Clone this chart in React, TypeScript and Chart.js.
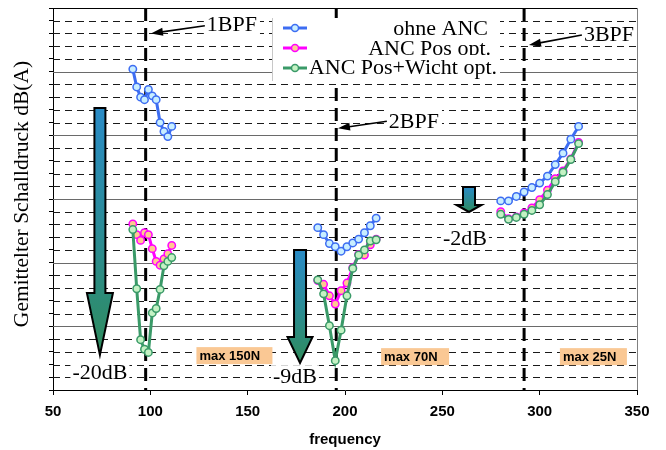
import React, { useEffect, useRef } from 'react';
import { Chart, registerables } from 'chart.js';

Chart.register(...registerables);

// ---- data ----
const freqLow = [91, 93, 95, 97, 99, 101, 103, 105, 107, 109, 111];
const freqMid = [186, 189, 192, 195, 198, 201, 204, 207, 210, 213, 216];
const freqHigh = [280, 284, 288, 292, 296, 300, 304, 308, 312, 316, 320];

const ohneAncLow = [25.2, 23.8, 23.0, 22.8, 23.6, 23.1, 22.8, 21.0, 20.3, 19.9, 20.7];
const ohneAncMid = [12.75, 12.2, 11.5, 11.25, 10.9, 11.25, 11.55, 11.85, 12.35, 12.9, 13.5];
const ohneAncHigh = [14.85, 14.85, 15.2, 15.55, 15.9, 16.25, 16.8, 17.7, 18.6, 19.7, 20.7];

const posOptLow = [13.05, 12.2, 11.75, 12.35, 12.2, 11.1, 10.1, 9.8, 10.3, 10.7, 11.35];
const posOptMid = [8.6, 8.3, 7.4, 6.75, 7.8, 8.4, 9.6, 10.65, 10.6, 11.4, 11.85];
const posOptHigh = [14.0, 13.45, 13.6, 13.9, 14.3, 14.95, 15.7, 16.6, 17.2, 18.15, 19.45];

const posWichtLow = [12.6, 7.95, 3.95, 3.2, 2.95, 6.05, 6.4, 7.9, 9.75, 10.1, 10.4];
const posWichtMid = [8.65, 7.55, 5.05, 2.3, 4.7, 7.4, 9.55, 10.6, 11.0, 11.7, 11.8];
const posWichtHigh = [13.8, 13.4, 13.55, 13.8, 14.1, 14.55, 15.35, 16.35, 17.1, 18.1, 19.35];

const seriesNames = ['ohne ANC', 'ANC Pos opt.', 'ANC Pos+Wicht opt.'];
const bpfFreqs = [97.6, 195.5, 292];
const bpfLabels = ['1BPF', '2BPF', '3BPF'];
const reductionLabels = ['-20dB', '-9dB', '-2dB'];
const forceLabels = ['max 150N', 'max 70N', 'max 25N'];
const yAxisTitle = 'Gemittelter Schalldruck dB(A)';
const xAxisTitle = 'frequency';

// ---- styles ----
const SANS = "'Liberation Sans', Arial, sans-serif";
const SERIF = "'Liberation Serif', 'Times New Roman', serif";
const lineColors = ['#3d6df2', '#ff00ff', '#3a9a68'];
const pointFills = ['#c8eeff', '#ffc890', '#c4f2c4'];

function joinGroups(fs: number[][], vs: number[][]) {
  const out: { x: number; y: number | null }[] = [];
  fs.forEach((f, g) => {
    if (g > 0) out.push({ x: (fs[g - 1][fs[g - 1].length - 1] + f[0]) / 2, y: null });
    f.forEach((x, i) => out.push({ x, y: vs[g][i] }));
  });
  return out;
}

const allFreqs = [freqLow, freqMid, freqHigh];
const seriesValues = [
  [ohneAncLow, ohneAncMid, ohneAncHigh],
  [posOptLow, posOptMid, posOptHigh],
  [posWichtLow, posWichtMid, posWichtHigh],
];

function whiteTextBox(ctx: CanvasRenderingContext2D, text: string, cx: number, cy: number, size: number, padX = 3, padY = 2) {
  ctx.font = `${size}px ${SERIF}`;
  const w = ctx.measureText(text).width;
  const h = size * 0.8;
  ctx.fillStyle = '#fff';
  ctx.fillRect(cx - w / 2 - padX, cy - h / 2 - padY, w + 2 * padX, h + 2 * padY);
  ctx.fillStyle = '#000';
  ctx.textAlign = 'center';
  ctx.textBaseline = 'middle';
  ctx.fillText(text, cx, cy + 1);
}

function pointer(ctx: CanvasRenderingContext2D, x1: number, y1: number, x2: number, y2: number) {
  const ang = Math.atan2(y2 - y1, x2 - x1);
  const hl = 12, hw = 4;
  ctx.strokeStyle = '#000';
  ctx.lineWidth = 1.6;
  ctx.setLineDash([]);
  ctx.beginPath();
  ctx.moveTo(x1, y1);
  ctx.lineTo(x2 - Math.cos(ang) * hl * 0.8, y2 - Math.sin(ang) * hl * 0.8);
  ctx.stroke();
  ctx.fillStyle = '#000';
  ctx.beginPath();
  ctx.moveTo(x2, y2);
  ctx.lineTo(x2 - Math.cos(ang) * hl - Math.sin(ang) * hw, y2 - Math.sin(ang) * hl + Math.cos(ang) * hw);
  ctx.lineTo(x2 - Math.cos(ang) * hl + Math.sin(ang) * hw, y2 - Math.sin(ang) * hl - Math.cos(ang) * hw);
  ctx.closePath();
  ctx.fill();
}

function bigArrow(ctx: CanvasRenderingContext2D, x: number, yTop: number, yNeck: number, yTip: number, sh: number, hh: number) {
  const g = ctx.createLinearGradient(0, yTop, 0, yTip);
  g.addColorStop(0, '#2a8bc6');
  g.addColorStop(0.5, '#2b8c96');
  g.addColorStop(1, '#2f8c5c');
  ctx.beginPath();
  ctx.moveTo(x - sh, yTop);
  ctx.lineTo(x + sh, yTop);
  ctx.lineTo(x + sh, yNeck);
  ctx.lineTo(x + hh, yNeck);
  ctx.lineTo(x, yTip);
  ctx.lineTo(x - hh, yNeck);
  ctx.lineTo(x - sh, yNeck);
  ctx.closePath();
  ctx.fillStyle = g;
  ctx.fill();
  ctx.setLineDash([]);
  ctx.lineWidth = 2;
  ctx.strokeStyle = '#000';
  ctx.lineJoin = 'miter';
  ctx.stroke();
}

const overlayPlugin = {
  id: 'overlay',
  beforeDatasetsDraw(chart: any) {
    const { ctx, chartArea: a, scales } = chart;
    const xs = scales.x, ys = scales.y;
    ctx.save();
    // grid lines
    for (let v = 1; v < 30; v++) {
      const py = Math.round(ys.getPixelForValue(v)) + 0.5;
      ctx.beginPath();
      ctx.lineWidth = 1;
      if (v % 5 === 0) {
        ctx.setLineDash([]);
        ctx.strokeStyle = '#6a6a6a';
      } else {
        ctx.setLineDash([7, 5]);
        ctx.strokeStyle = '#1a1a1a';
      }
      ctx.moveTo(a.left, py);
      ctx.lineTo(a.right, py);
      ctx.stroke();
    }
    ctx.setLineDash([]);
    // top + right border
    ctx.strokeStyle = '#000';
    ctx.beginPath();
    ctx.moveTo(a.left, Math.round(a.top) + 0.5);
    ctx.lineTo(a.right, Math.round(a.top) + 0.5);
    ctx.stroke();
    ctx.strokeStyle = '#808080';
    ctx.beginPath();
    ctx.moveTo(Math.round(a.right) + 0.5, a.top);
    ctx.lineTo(Math.round(a.right) + 0.5, a.bottom);
    ctx.stroke();

    // BPF lines
    ctx.strokeStyle = '#000';
    ctx.lineWidth = 3;
    ctx.setLineDash([13, 7]);
    bpfFreqs.forEach((f) => {
      const px = xs.getPixelForValue(f);
      ctx.beginPath();
      ctx.moveTo(px, a.top);
      ctx.lineTo(px, a.bottom);
      ctx.stroke();
    });
    ctx.setLineDash([]);

    // BPF labels with pointers
    const bpfText = [[141.9, 28.74], [235.4, 21.1], [335.6, 27.95]];
    const bpfArrow = [[128.0, 28.6, 100.3, 28.0], [221.5, 21.1, 196.4, 20.55], [321.7, 27.88, 294.5, 27.1]];
    bpfLabels.forEach((t, i) => {
      whiteTextBox(ctx, t, xs.getPixelForValue(bpfText[i][0]), ys.getPixelForValue(bpfText[i][1]), 22, 3, 3);
      const [f1, v1, f2, v2] = bpfArrow[i];
      pointer(ctx, xs.getPixelForValue(f1), ys.getPixelForValue(v1), xs.getPixelForValue(f2), ys.getPixelForValue(v2));
    });

    // reduction arrows
    const arrows = [
      [74.1, 22.15, 7.62, 2.75, 5.5, 13],
      [176.9, 11.0, 4.16, 2.12, 6, 12.5],
      [263.7, 15.94, 14.53, 13.98, 6, 12.5],
    ];
    arrows.forEach(([f, vt, vn, vtip, sh, hh]) => {
      bigArrow(ctx, xs.getPixelForValue(f), ys.getPixelForValue(vt), ys.getPixelForValue(vn), ys.getPixelForValue(vtip), sh, hh);
    });
    const redPos = [[74.1, 1.41], [174.3, 1.1], [261.6, 11.94]];
    reductionLabels.forEach((t, i) => {
      whiteTextBox(ctx, t, xs.getPixelForValue(redPos[i][0]), ys.getPixelForValue(redPos[i][1]), 22, 2, 2);
    });

    // force boxes
    const forcePos = [[143.2, 2.7, 76], [236, 2.62, 68], [327.6, 2.62, 67]];
    forceLabels.forEach((t, i) => {
      const cx = xs.getPixelForValue(forcePos[i][0]);
      const cy = ys.getPixelForValue(forcePos[i][1]);
      const w = forcePos[i][2];
      ctx.fillStyle = '#fac894';
      ctx.fillRect(cx - w / 2, cy - 8.5, w, 17);
      ctx.fillStyle = '#000';
      ctx.font = `bold 13px ${SANS}`;
      ctx.textAlign = 'left';
      ctx.textBaseline = 'middle';
      ctx.fillText(t, cx - w / 2 + 3, cy + 1);
    });
    ctx.restore();
  },
  afterDraw(chart: any) {
    const { ctx, chartArea: a } = chart;
    ctx.save();
    // legend box
    ctx.fillStyle = '#fff';
    ctx.fillRect(272, 18, 228, 63);
    ctx.strokeStyle = '#c8c8c8';
    ctx.lineWidth = 1;
    ctx.beginPath();
    ctx.moveTo(272.5, 18);
    ctx.lineTo(272.5, 81);
    ctx.stroke();
    const rowY = [28, 48, 68];
    const textRight = [488, 491, 497];
    const baseY = [35, 54.5, 74];
    seriesNames.forEach((name, i) => {
      ctx.strokeStyle = lineColors[i];
      ctx.lineWidth = 3;
      ctx.beginPath();
      ctx.moveTo(283, rowY[i]);
      ctx.lineTo(307, rowY[i]);
      ctx.stroke();
      ctx.beginPath();
      ctx.arc(295, rowY[i], 3.5, 0, Math.PI * 2);
      ctx.fillStyle = pointFills[i];
      ctx.fill();
      ctx.lineWidth = 1.5;
      ctx.stroke();
      if (i === 2) {
        ctx.fillStyle = '#fff';
        ctx.fillRect(310, 55, 190, 24);
      }
      ctx.fillStyle = '#000';
      ctx.font = `22px ${SERIF}`;
      ctx.textAlign = 'right';
      ctx.textBaseline = 'alphabetic';
      ctx.fillText(name, textRight[i], baseY[i]);
    });

    // axis titles
    ctx.fillStyle = '#000';
    ctx.font = `bold 15px ${SANS}`;
    ctx.textAlign = 'center';
    ctx.textBaseline = 'middle';
    ctx.fillText(xAxisTitle, (a.left + a.right) / 2, 440);
    ctx.translate(22, (a.top + a.bottom) / 2 - 5);
    ctx.rotate(-Math.PI / 2);
    ctx.font = `21.5px ${SERIF}`;
    ctx.fillText(yAxisTitle, 0, 0);
    ctx.restore();
  },
};

export default function App() {
  const ref = useRef<HTMLCanvasElement>(null);
  useEffect(() => {
    const canvas = ref.current!;
    const datasets = seriesNames.map((name, i) => ({
      label: name,
      data: joinGroups(allFreqs, seriesValues[i]),
      borderColor: lineColors[i],
      backgroundColor: pointFills[i],
      pointBackgroundColor: pointFills[i],
      pointBorderColor: lineColors[i],
      borderWidth: 3,
      pointRadius: 3.7,
      pointBorderWidth: 1.5,
      spanGaps: false,
      tension: 0,
      order: 3 - i,
    }));
    const chart = new Chart(canvas, {
      type: 'line',
      data: { datasets },
      options: {
        animation: false,
        responsive: false,
        layout: { padding: { top: 8, right: 29, left: 0, bottom: 0 } },
        plugins: { legend: { display: false }, tooltip: { enabled: false } },
        scales: {
          x: {
            type: 'linear',
            min: 50,
            max: 350,
            ticks: {
              stepSize: 50,
              color: '#000',
              font: { family: SANS, size: 15, weight: 'bold' },
              padding: 8,
              maxRotation: 0,
            },
            grid: { drawOnChartArea: false, drawTicks: true, tickLength: 5, color: '#000' },
            border: { display: true, color: '#000', width: 1 },
            afterFit: (s: any) => { s.height = 60; },
          },
          y: {
            type: 'linear',
            min: 0,
            max: 30,
            ticks: { stepSize: 1, display: false },
            grid: { drawOnChartArea: false, drawTicks: true, tickLength: 4, color: '#000' },
            border: { display: true, color: '#000', width: 1 },
            afterFit: (s: any) => { s.width = 53; },
          },
        },
      } as any,
      plugins: [overlayPlugin],
    });
    return () => chart.destroy();
  }, []);
  return (
    <div style={{ position: 'fixed', left: 0, top: 0, width: 666, height: 450, background: '#fff' }}>
      <canvas ref={ref} width={666} height={450} style={{ display: 'block' }} />
    </div>
  );
}
